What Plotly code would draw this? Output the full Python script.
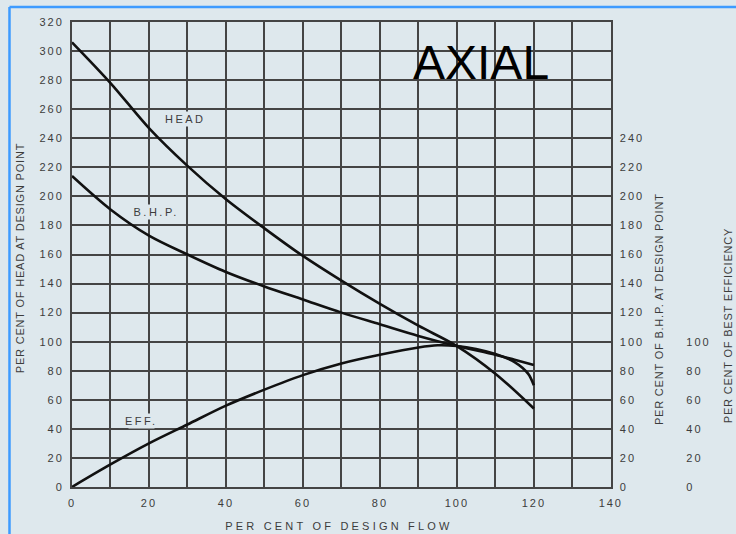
import plotly.graph_objects as go

# ---- data ----
head_x = [0, 10, 20, 30, 40, 50, 60, 70, 80, 90, 100, 110, 120]
head_y = [306, 278, 247, 221, 198, 178, 159, 142, 126, 111, 97, 78, 54]

bhp_x = [0, 10, 20, 30, 40, 50, 60, 70, 80, 90, 100, 110, 115, 120]
bhp_y = [214, 191, 173, 160, 148, 138, 129, 120, 112, 104, 97, 91, 87.5, 84]

eff_x = [0, 10, 20, 30, 40, 50, 60, 70, 80, 90, 95, 100, 105, 110, 115, 118.5, 120]
eff_y = [0, 15.5, 30, 43, 56, 67, 77, 85, 91, 96, 97.5, 97, 95, 91.5, 86, 78, 70]

x_ticks = [0, 20, 40, 60, 80, 100, 120, 140]
head_ticks = list(range(0, 321, 20))
bhp_ticks = list(range(0, 241, 20))
eff_ticks = list(range(0, 101, 20))

x_title = "PER CENT OF DESIGN FLOW"
head_title = "PER CENT OF HEAD AT DESIGN POINT"
bhp_title = "PER CENT OF B.H.P. AT DESIGN POINT"
eff_title = "PER CENT OF BEST EFFICIENCY"
curve_labels = ["HEAD", "B.H.P.", "EFF."]
big_label = "AXIAL"

# ---- style ----
BG = "#dee8ed"
GRID = "#444444"
TXT = "#3c3c3c"
FONT = "Liberation Sans, Arial, sans-serif"
W, H = 736, 534
ML, MR, MT, MB = 72, 16, 22, 47
PW = W - ML - MR
PH = H - MT - MB
plot_right_px = 615
xdom = (plot_right_px - ML) / PW


def px_to_paper_x(px):
    return (px - ML) / PW


def px_to_paper_y(py):
    return (H - MB - py) / PH


fig = go.Figure()
line_style = dict(color="#111111", width=2.6, shape="spline", smoothing=0.9)
fig.add_trace(go.Scatter(x=head_x, y=head_y, mode="lines", line=line_style,
                         name="HEAD", yaxis="y", hoverinfo="skip"))
fig.add_trace(go.Scatter(x=bhp_x, y=bhp_y, mode="lines", line=line_style,
                         name="B.H.P.", yaxis="y2", hoverinfo="skip"))
fig.add_trace(go.Scatter(x=eff_x, y=eff_y, mode="lines", line=line_style,
                         name="EFF.", yaxis="y3", hoverinfo="skip"))

tickfont = dict(family=FONT, size=11, color=TXT)

fig.update_layout(
    width=W, height=H,
    margin=dict(l=ML, r=MR, t=MT, b=MB),
    paper_bgcolor=BG, plot_bgcolor=BG,
    showlegend=False,
    xaxis=dict(
        domain=[0, xdom], range=[0, 140],
        tickvals=x_ticks, ticktext=[str(v) for v in x_ticks],
        showgrid=True, gridcolor=GRID, gridwidth=2,
        minor=dict(dtick=10, showgrid=True, gridcolor=GRID, gridwidth=2),
        showline=True, mirror=True, linecolor=GRID, linewidth=2,
        zeroline=False, ticks="", tickfont=tickfont, ticklabelstandoff=5,
    ),
    yaxis=dict(
        range=[0, 320], tickvals=head_ticks,
        showgrid=True, gridcolor=GRID, gridwidth=2,
        showline=True, mirror=True, linecolor=GRID, linewidth=2,
        zeroline=False, ticks="", tickfont=tickfont, ticklabelstandoff=4,
    ),
    yaxis2=dict(
        range=[0, 320], tickvals=bhp_ticks, overlaying="y", side="right",
        anchor="x", showgrid=False, zeroline=False, showline=False,
        ticks="", tickfont=tickfont, ticklabelstandoff=8,
    ),
    yaxis3=dict(
        range=[0, 320], tickvals=eff_ticks, overlaying="y", side="right",
        anchor="free", position=px_to_paper_x(682), showgrid=False,
        zeroline=False, showline=False,
        ticks="", tickfont=tickfont, ticklabelstandoff=8,
    ),
)

ann_font = dict(family=FONT, size=11, color=TXT)
annotations = [
    dict(text=big_label, x=106.3, y=292, xref="x", yref="y",
         font=dict(family=FONT, size=48, color="#000000"),
         showarrow=False, xanchor="center", yanchor="middle"),
    dict(text=x_title, x=px_to_paper_x(341.5), y=px_to_paper_y(525.7),
         xref="paper", yref="paper", font=ann_font, showarrow=False,
         xanchor="center", yanchor="middle"),
    dict(text=head_title, x=px_to_paper_x(20), y=px_to_paper_y(258),
         xref="paper", yref="paper", font=ann_font, showarrow=False,
         textangle=-90, xanchor="center", yanchor="middle"),
    dict(text=bhp_title, x=px_to_paper_x(663.5), y=px_to_paper_y(308.5),
         xref="paper", yref="paper", font=ann_font, showarrow=False,
         textangle=-90, xanchor="center", yanchor="middle"),
    dict(text=eff_title, x=px_to_paper_x(733), y=px_to_paper_y(325.5),
         xref="paper", yref="paper", font=ann_font, showarrow=False,
         textangle=-90, xanchor="center", yanchor="middle"),
    dict(text=curve_labels[0], x=29.4, y=253, xref="x", yref="y",
         font=ann_font, showarrow=False, bgcolor=BG),
    dict(text=curve_labels[1], x=21.8, y=189, xref="x", yref="y",
         font=ann_font, showarrow=False, bgcolor=BG),
    dict(text=curve_labels[2], x=18, y=45.5, xref="x", yref="y",
         font=ann_font, showarrow=False, bgcolor=BG),
]
fig.update_layout(annotations=annotations)

# blue frame lines (top and left)
blue = "#3d9bff"
fx = px_to_paper_x(9)
fy = px_to_paper_y(7)
fig.add_shape(type="line", xref="paper", yref="paper", x0=fx, x1=1.1, y0=fy, y1=fy,
              line=dict(color=blue, width=2.5))
fig.add_shape(type="line", xref="paper", yref="paper", x0=fx, x1=fx, y0=fy, y1=-0.2,
              line=dict(color=blue, width=2.5))

css = (
    "html, body {margin:0; padding:0; overflow:hidden}"
    " .main-svg .xtick text, .main-svg .ytick text, .main-svg .y2tick text, "
    ".main-svg .y3tick text {letter-spacing:2px}"
    " g.annotation[data-index='1'] text {letter-spacing:3.2px}"
    " g.annotation[data-index='2'] text, g.annotation[data-index='3'] text,"
    " g.annotation[data-index='4'] text {letter-spacing:0.8px}"
    " g.annotation[data-index='5'] text, g.annotation[data-index='6'] text,"
    " g.annotation[data-index='7'] text {letter-spacing:2.5px}"
)
post = ("var s=document.createElement('style');s.innerHTML=\"" + css +
        "\";document.head.appendChild(s);")

fig.write_html("out.html", post_script=post,
               config={"displayModeBar": False, "staticPlot": True})
